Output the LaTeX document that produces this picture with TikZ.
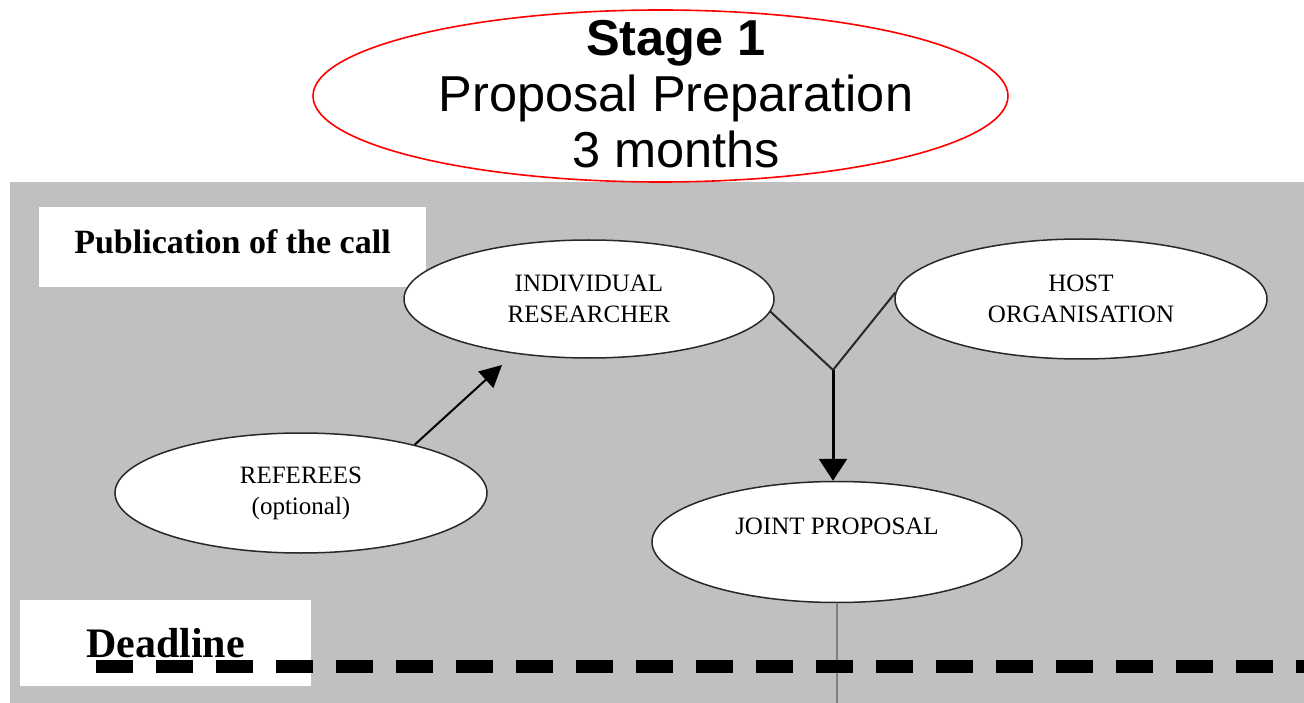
\documentclass[tikz,border=0pt]{standalone}
\usepackage{fontspec}
\setmainfont{Liberation Serif}
\newfontfamily\titlefont{Liberation Sans}
\usetikzlibrary{shapes.geometric,arrows.meta}
\definecolor{panelgray}{RGB}{192,192,192}
\definecolor{linegray}{RGB}{128,128,128}
\definecolor{outline}{RGB}{40,40,40}
\begin{document}
\begin{tikzpicture}[x=1pt,y=-1pt,
  bubble/.style={ellipse, draw=outline, line width=1.5pt, fill=white, inner sep=0pt,
    minimum width=370pt, minimum height=119pt, align=center,
    font=\fontsize{25}{31}\selectfont},
  titleshape/.style={ellipse, draw=red, line width=1.6pt, fill=white, inner sep=0pt,
    minimum width=695pt, minimum height=172pt},
  titletext/.style={align=center, inner sep=0pt, font=\titlefont\fontsize{50.5}{56}\selectfont},
  labelbox/.style={rectangle, fill=white, inner sep=0pt, font=\bfseries},
  vline/.style={draw=outline, line width=2pt},
  bigarrow/.style={draw=black, line width=3pt, -{Triangle[length=22pt,width=28pt]}},
  refarrow/.style={draw=black, line width=2pt, -{Triangle[length=22pt,width=22pt]}},
  stem/.style={draw=linegray, line width=2.5pt},
  deadline/.style={draw=black, line width=13pt, dash pattern=on 37pt off 23pt}
]
\useasboundingbox (0,0) rectangle (1304,703);
\fill[panelgray] (10,182) rectangle (1304,703);

% title
\node[titleshape] (title) at (660.5,96) {};
\node[titletext] (titletxt) at (676,94) {{\bfseries Stage 1}\\Proposal Preparation\\3 months};

% label boxes
\node[labelbox, minimum width=387pt, minimum height=80pt, text depth=10pt,
  font=\bfseries\fontsize{34}{34}\selectfont] (pub) at (232.5,247) {Publication of the call};
\node[labelbox, minimum width=291pt, minimum height=86pt,
  font=\bfseries\fontsize{42}{42}\selectfont] (dead) at (165.5,643) {Deadline};

% ellipses
\node[bubble, minimum width=370pt, minimum height=118pt] (ind) at (589,299) {INDIVIDUAL\\RESEARCHER};
\node[bubble, minimum width=372pt, minimum height=120pt] (host) at (1081,299) {HOST\\ORGANISATION};
\node[bubble, minimum width=372pt, minimum height=120pt] (ref) at (301,493) {REFEREES\\(optional)};
\node[bubble, minimum width=370pt, minimum height=121pt] (joint) at (837,542) {JOINT PROPOSAL\\\mbox{}};

% connectors
\coordinate (v) at (833,370);
\draw[vline] (ind.-4) -- (v) -- (host.178);
\draw[bigarrow] (v) -- (v |- joint.north);
\coordinate (reftip) at (502,365);
\draw[refarrow] (ref.23) -- (reftip);
\coordinate (bot) at (837,703);
\draw[stem] (joint.south) -- (bot);

% deadline line
\coordinate (dl1) at (96,666);
\coordinate (dl2) at (1304,666);
\draw[deadline] (dl1) -- (dl2);
\end{tikzpicture}
\end{document}
